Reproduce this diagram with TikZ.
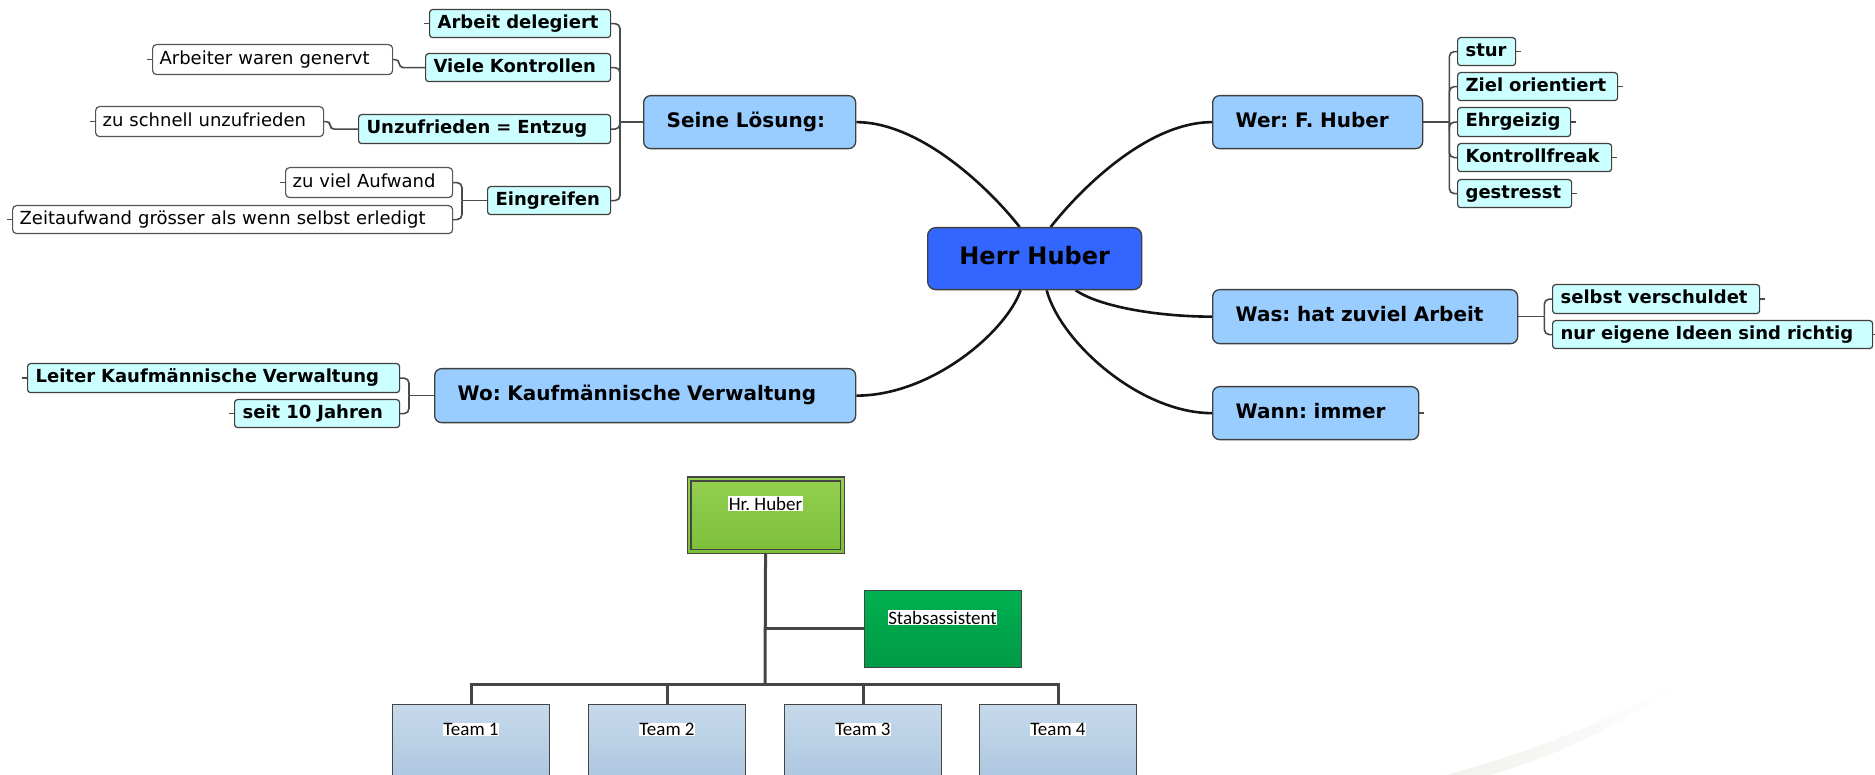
\documentclass[tikz,border=0pt]{standalone}
\usepackage{fontspec}
\setmainfont{DejaVu Sans}
\newfontfamily\orgfont{Carlito}
\usetikzlibrary{calc}
\frenchspacing
\definecolor{bord}{HTML}{3F3F3F}
\definecolor{centralc}{HTML}{3366FF}
\definecolor{topicc}{HTML}{99CCFF}
\definecolor{subc}{HTML}{CCFFFF}
\definecolor{leafb}{HTML}{555555}
\definecolor{mainconn}{HTML}{141414}
\definecolor{brkc}{HTML}{4A4A4A}
\definecolor{orgline}{HTML}{454545}
\definecolor{hrtop}{HTML}{94D050}
\definecolor{hrbot}{HTML}{7CBE3A}
\definecolor{sttop}{HTML}{00B050}
\definecolor{stbot}{HTML}{009A46}
\definecolor{tmtop}{HTML}{C7DAEB}
\definecolor{tmbot}{HTML}{A6C2DD}
\definecolor{swoosh}{HTML}{F0F2EC}
\pgfdeclarelayer{bg}
\pgfdeclarelayer{back}
\pgfsetlayers{back,bg,main}
\tikzset{
  central/.style={draw=bord, line width=1.3pt, fill=centralc, rounded corners=8pt,
    anchor=north west, inner xsep=10pt, inner ysep=0pt, align=center,
    font=\fontsize{24}{28}\selectfont\bfseries, text height=17pt, text depth=5pt},
  topic/.style={draw=bord, line width=1.3pt, fill=topicc, rounded corners=7pt,
    anchor=north west, inner xsep=23pt, inner ysep=0pt, align=left,
    font=\fontsize{20}{24}\selectfont\bfseries, text height=14.5pt, text depth=4pt},
  subt/.style={draw=bord, line width=1.2pt, fill=subc, rounded corners=3pt,
    anchor=north west, inner xsep=8pt, inner ysep=0pt, align=left,
    font=\fontsize{18}{22}\selectfont\bfseries, text height=13pt, text depth=3.5pt},
  leaf/.style={draw=leafb, line width=1.2pt, fill=white, rounded corners=4pt,
    anchor=north west, inner xsep=7pt, inner ysep=0pt, align=left,
    font=\fontsize{18}{22}\selectfont, text height=13pt, text depth=3.5pt},
  mainc/.style={draw=mainconn, line width=2.6pt},
  brk/.style={draw=brkc, line width=1.6pt, rounded corners=5pt},
  stub/.style={draw=brkc, line width=1.5pt},
  orgbox/.style={draw=orgline, line width=1.1pt, inner sep=0pt},
  orgtxt/.style={fill=white, inner sep=0.6pt, font=\orgfont\fontsize{19}{21}\selectfont},
  orgc/.style={draw=orgline, line width=3pt},
}
\begin{document}
\begin{tikzpicture}[x=1pt,y=-1pt]
\useasboundingbox (0,0) rectangle (1875,775);
\clip (0,0) rectangle (1875,775);
\begin{pgfonlayer}{back}
\fill[white] (0,0) rectangle (1875,775);
% faint background swoosh
\shade[left color=swoosh, right color=white]
  (1446,775) .. controls (1540,750) and (1620,716) .. (1686,676)
  .. controls (1636,716) and (1570,752) .. (1490,775) -- cycle;
\end{pgfonlayer}

% central and main topics
\node[central, minimum width=214pt, minimum height=62pt, text width=194pt] (huber) at (927,227) {Herr Huber};
\node[topic, minimum height=53pt, text width=166pt] (seine) at (643,95) {Seine Lösung:};
\node[topic, minimum height=53pt, text width=164pt] (wer) at (1212,95) {Wer: F. Huber};
\node[topic, minimum height=54pt, text width=259pt] (was) at (1212,289) {Was: hat zuviel Arbeit};
\node[topic, minimum height=53pt, text width=160pt] (wann) at (1212,386) {Wann: immer};
\node[topic, minimum height=54pt, text width=375pt] (wo) at (434,368) {Wo: Kaufmännische Verwaltung};

% Seine Loesung branch
\node[subt, minimum height=28pt, text width=165pt] (arbdel) at (429,9) {Arbeit delegiert};
\node[subt, minimum height=28pt, text width=169pt] (viele) at (425,53) {Viele Kontrollen};
\node[subt, minimum height=29pt, text width=236pt] (unzuf) at (358,114) {Unzufrieden = Entzug};
\node[subt, minimum height=28pt, text width=107pt] (eingr) at (487,186) {Eingreifen};
\node[leaf, minimum height=30pt, text width=226pt] (arbeiter) at (152,44) {Arbeiter waren genervt};
\node[leaf, minimum height=30pt, text width=214pt] (zuschnell) at (95,106) {zu schnell unzufrieden};
\node[leaf, minimum height=30pt, text width=153pt] (zuviel) at (285,167) {zu viel Aufwand};
\node[leaf, minimum height=28pt, text width=426pt] (zeit) at (12,205) {Zeitaufwand grösser als wenn selbst erledigt};

% Wer branch
\node[subt, minimum height=28pt, text width=42pt] (stur) at (1457,37) {stur};
\node[subt, minimum height=28pt, text width=144pt] (ziel) at (1457,72) {Ziel orientiert};
\node[subt, minimum height=29pt, text width=97pt] (ehrg) at (1457,107) {Ehrgeizig};
\node[subt, minimum height=28pt, text width=138pt] (kontr) at (1457,143) {Kontrollfreak};
\node[subt, minimum height=28pt, text width=98pt] (gestr) at (1457,179) {gestresst};

% Was branch
\node[subt, minimum height=29pt, text width=191pt] (selbst) at (1552,284) {selbst verschuldet};
\node[subt, minimum height=28pt, text width=304pt] (nureig) at (1552,320) {nur eigene Ideen sind richtig};

% Wo branch
\node[subt, minimum height=29pt, text width=356pt] (leiter) at (27,363) {Leiter Kaufmännische Verwaltung};
\node[subt, minimum height=28pt, text width=149pt] (seit) at (234,399) {seit 10 Jahren};

% bracket points
\coordinate (bS) at ($(seine.west)+(-23,0)$);
\coordinate (bE) at ($(eingr.west)+(-25,0)$);
\coordinate (bW) at ($(wer.east)+(26,0)$);
\coordinate (bA) at ($(was.east)+(26,0)$);
\coordinate (bO) at ($(wo.west)+(-25,0)$);

\begin{pgfonlayer}{bg}
  % main curved connectors
  \draw[mainc] (seine.east) .. controls +(65,0) and +(-29,-37) .. ($(huber.north)+(-15,0)$);
  \draw[mainc] (wer.west) .. controls +(-65,0) and +(29,-37) .. ($(huber.north)+(16,0)$);
  \draw[mainc] ($(huber.south)+(41,0)$) .. controls +(25,17) and +(-52,0) .. (was.west);
  \draw[mainc] ($(huber.south)+(12,0)$) .. controls +(14,52) and +(-72,0) .. (wann.west);
  \draw[mainc] ($(huber.south)+(-14,0)$) .. controls +(-15,42) and +(75,0) .. (wo.east);

  % Seine Loesung bracket
  \draw[brk] (arbdel.east) -| (bS);
  \draw[brk] (viele.east) -| (bS);
  \draw[brk] (unzuf.east) -| (bS);
  \draw[brk] (eingr.east) -| (bS);
  \draw[brk] (bS) -- (seine.west);
  \draw[brk, rounded corners=4pt] (arbeiter.east) -- ++(6,0) |- (viele.west);
  \draw[brk, rounded corners=4pt] (zuschnell.east) -- ++(6,0) |- (unzuf.west);
  \draw[brk] (zuviel.east) -| (bE);
  \draw[brk] (zeit.east) -| (bE);
  \draw[brk] (bE) -- (eingr.west);

  % Wer bracket
  \draw[brk] (wer.east) -- (bW);
  \draw[brk] (bW) |- (stur.west);
  \draw[brk] (bW) |- (ziel.west);
  \draw[brk] (bW) |- (ehrg.west);
  \draw[brk] (bW) |- (kontr.west);
  \draw[brk] (bW) |- (gestr.west);

  % Was bracket
  \draw[brk] (was.east) -- (bA);
  \draw[brk] (bA) |- (selbst.west);
  \draw[brk] (bA) |- (nureig.west);

  % Wo bracket
  \draw[brk] (leiter.east) -| (bO);
  \draw[brk] (seit.east) -| (bO);
  \draw[brk] (bO) -- (wo.west);
\end{pgfonlayer}

% collapse stubs
\foreach \n in {arbdel,arbeiter,zuschnell,zuviel,zeit,leiter,seit}
  \draw[stub] (\n.west) -- ++(-5,0);
\foreach \n in {stur,ziel,ehrg,kontr,gestr,selbst,nureig,wann}
  \draw[stub] (\n.east) -- ++(5,0);

% organisation chart
\node[orgbox, anchor=north west, minimum width=157pt, minimum height=76pt,
      top color=hrtop, bottom color=hrbot] (hr) at (686.5,476.5) {};
\draw[draw=orgline, line width=1.1pt] ($(hr.north west)+(4.5,4.5)$) rectangle ($(hr.south east)+(-4.5,-4.5)$);
\node[orgtxt] (hrtxt) at ($(hr.north)+(0,27)$) {Hr. Huber};

\node[orgbox, anchor=north west, minimum width=157pt, minimum height=77pt,
      top color=sttop, bottom color=stbot] (stab) at (863.5,589.5) {};
\node[orgtxt] (stabtxt) at ($(stab.north)+(0,28)$) {Stabsassistent};

\foreach \i/\x in {1/471,2/667,3/863,4/1058}{
  \node[orgbox, anchor=north, minimum width=157pt, minimum height=95pt,
        top color=tmtop, bottom color=tmbot] (t\i) at (\x,703.5) {};
  \node[orgtxt] (t\i txt) at ($(t\i.north)+(0,26)$) {Team \i};
}

\coordinate (bus) at (765,684);
\begin{pgfonlayer}{bg}
  \draw[orgc] (hr.south) -- (bus);
  \draw[orgc] (stab.west) -- (stab.west -| hr.south);
  \draw[orgc] (t1.north) |- (bus) -| (t4.north);
  \draw[orgc] (t2.north) -- (t2.north |- bus);
  \draw[orgc] (t3.north) -- (t3.north |- bus);
\end{pgfonlayer}
\end{tikzpicture}
\end{document}
